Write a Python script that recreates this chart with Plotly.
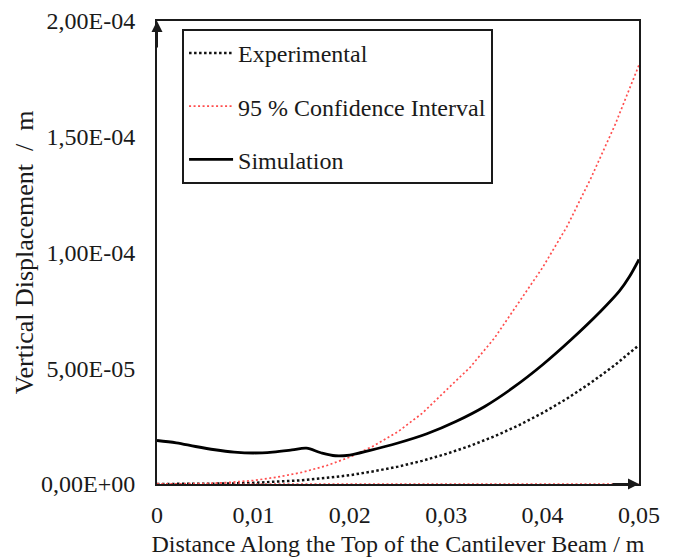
import plotly.graph_objects as go

# Distance along the beam top (m) and displacement series (m)
x_sim = [0, 0.002, 0.004, 0.006, 0.008, 0.010, 0.012, 0.014, 0.0155, 0.017,
         0.0185, 0.020, 0.022, 0.025, 0.028, 0.031, 0.034, 0.037, 0.040,
         0.043, 0.046, 0.048, 0.049, 0.050]
y_sim = [1.88e-5, 1.78e-5, 1.62e-5, 1.48e-5, 1.38e-5, 1.34e-5, 1.38e-5, 1.47e-5,
         1.55e-5, 1.35e-5, 1.22e-5, 1.25e-5, 1.44e-5, 1.77e-5, 2.17e-5, 2.70e-5,
         3.35e-5, 4.18e-5, 5.15e-5, 6.25e-5, 7.45e-5, 8.35e-5, 8.95e-5, 9.70e-5]

x_exp = [0, 0.0025, 0.005, 0.0075, 0.010, 0.0125, 0.015, 0.0175, 0.020, 0.0225,
         0.025, 0.0275, 0.030, 0.0325, 0.035, 0.0375, 0.040, 0.0425, 0.045,
         0.0475, 0.050]
y_exp = [0, 0, 0.01e-5, 0.02e-5, 0.05e-5, 0.09e-5, 0.16e-5, 0.26e-5, 0.38e-5,
         0.55e-5, 0.75e-5, 1.0e-5, 1.3e-5, 1.65e-5, 2.06e-5, 2.53e-5, 3.07e-5,
         3.68e-5, 4.37e-5, 5.14e-5, 6.0e-5]
y_ci_upper = [0, 0, 0.02e-5, 0.07e-5, 0.15e-5, 0.30e-5, 0.50e-5, 0.78e-5, 1.16e-5,
              1.65e-5, 2.26e-5, 3.05e-5, 4.05e-5, 5.05e-5, 6.3e-5, 7.85e-5, 9.35e-5,
              11.1e-5, 13.2e-5, 15.5e-5, 18.1e-5]
y_ci_lower = [0] * len(x_exp)

x_ticks = [0, 0.01, 0.02, 0.03, 0.04, 0.05]
x_ticktext = ["0", "0,01", "0,02", "0,03", "0,04", "0,05"]
y_ticks = [0, 5e-5, 1e-4, 1.5e-4, 2e-4]
y_ticktext = ["0,00E+00", "5,00E-05", "1,00E-04", "1,50E-04", "2,00E-04"]

FONT = "Times New Roman, Liberation Serif, serif"
INK = "#1a1a1a"
RED = "#ff4d4d"
FS = 24

fig = go.Figure()
fig.add_trace(go.Scatter(
    x=x_exp, y=y_exp, mode="lines", name="Experimental",
    legendgroup="exp",
    line=dict(color="#111111", width=2.5, dash="2.5px,2.5px"),
))
fig.add_trace(go.Scatter(
    x=x_exp, y=y_ci_upper, mode="lines", name="95 % Confidence Interval",
    legendgroup="ci",
    line=dict(color=RED, width=1.7, dash="2px,2.5px"),
))
fig.add_trace(go.Scatter(
    x=x_exp, y=y_ci_lower, mode="lines", name="95 % Confidence Interval",
    legendgroup="ci", showlegend=False,
    line=dict(color=RED, width=1.7, dash="2px,2.5px"),
))
fig.add_trace(go.Scatter(
    x=x_sim, y=y_sim, mode="lines", name="Simulation",
    legendgroup="sim",
    line=dict(color="#000000", width=2.8, shape="spline", smoothing=1.0),
))

# Arrowheads at the ends of the two axes
fig.add_annotation(x=0, y=2e-4, xref="x", yref="y", ax=0, ay=28, text="",
                   showarrow=True, arrowhead=2, arrowsize=1.1, arrowwidth=2,
                   arrowcolor=INK)
fig.add_annotation(x=0.05, y=0, xref="x", yref="y", ax=-28, ay=0, text="",
                   showarrow=True, arrowhead=2, arrowsize=1.1, arrowwidth=2,
                   arrowcolor=INK)

axis_common = dict(showgrid=False, zeroline=False, showline=True, mirror=True,
                   linecolor=INK, linewidth=2, ticks="", automargin=False,
                   tickfont=dict(family=FONT, size=FS, color=INK))

fig.update_layout(
    width=677, height=558,
    margin=dict(l=157, r=38, t=21, b=74),
    paper_bgcolor="white", plot_bgcolor="white",
    font=dict(family=FONT, size=FS, color=INK),
    showlegend=True,
    legend=dict(x=0.052, y=0.983, xanchor="left", yanchor="top",
                bordercolor=INK, borderwidth=2, bgcolor="white",
                font=dict(family=FONT, size=FS, color=INK),
                tracegroupgap=19, traceorder="grouped", itemwidth=44),
    xaxis=dict(range=[0, 0.05], tickvals=x_ticks, ticktext=x_ticktext,
               ticklabelstandoff=8,
               title=dict(text="Distance Along the Top of the Cantilever Beam / m",
                          font=dict(family=FONT, size=FS, color=INK), standoff=8),
               **axis_common),
    yaxis=dict(range=[0, 2e-4], tickvals=y_ticks, ticktext=y_ticktext,
               ticklabelstandoff=15,
               title=dict(text="Vertical Displacement\u00a0\u00a0/\u00a0\u00a0m",
                          font=dict(family=FONT, size=26, color=INK), standoff=0),
               **axis_common),
)

fig.write_html("out.html")
